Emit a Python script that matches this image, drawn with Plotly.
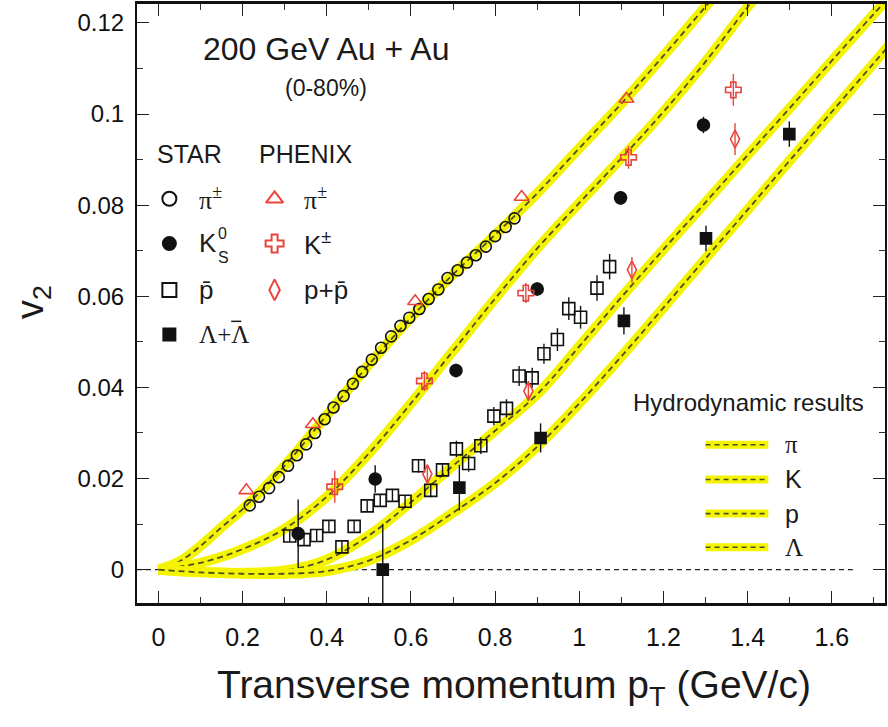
import plotly.graph_objects as go

# ---------------- data ----------------
# STAR charged pions (open circles)
star_pi_pt = [0.217, 0.239, 0.263, 0.286, 0.308, 0.329, 0.351, 0.372, 0.395, 0.416,
              0.440, 0.462, 0.484, 0.507, 0.529, 0.553, 0.575, 0.596, 0.620, 0.642,
              0.665, 0.687, 0.711, 0.733, 0.754, 0.778, 0.800, 0.825, 0.846]
star_pi_v2 = [0.0141, 0.0160, 0.0179, 0.0203, 0.0228, 0.0251, 0.0275, 0.0300, 0.0330, 0.0356,
              0.0381, 0.0408, 0.0434, 0.0461, 0.0487, 0.0512, 0.0535, 0.0553, 0.0572, 0.0594,
              0.0615, 0.0640, 0.0657, 0.0674, 0.0690, 0.0709, 0.0732, 0.0752, 0.0771]

# STAR K0s (filled circles)
star_k_pt = [0.332, 0.515, 0.707, 0.900, 1.098, 1.295]
star_k_v2 = [0.0079, 0.0199, 0.0437, 0.0616, 0.0816, 0.0976]
star_k_err = [0.0075, 0.0030, 0.0015, 0.0015, 0.0015, 0.0018]

# STAR anti-protons (open squares)
star_p_pt = [0.312, 0.346, 0.376, 0.405, 0.436, 0.465, 0.496, 0.527, 0.556, 0.586,
             0.618, 0.647, 0.675, 0.708, 0.737, 0.766, 0.797, 0.827, 0.857, 0.888,
             0.916, 0.948, 0.975, 1.003, 1.042, 1.072]
star_p_v2 = [0.0074, 0.0066, 0.0075, 0.0095, 0.0050, 0.0095, 0.0140, 0.0152, 0.0163, 0.0150,
             0.0228, 0.0174, 0.0219, 0.0265, 0.0233, 0.0272, 0.0337, 0.0354, 0.0425, 0.0421,
             0.0474, 0.0505, 0.0573, 0.0554, 0.0618, 0.0665]
star_p_err = [0.0012, 0.0012, 0.0012, 0.0012, 0.0012, 0.0012, 0.0012, 0.0012, 0.0012, 0.0012,
              0.0015, 0.0015, 0.0015, 0.0018, 0.0018, 0.0018, 0.0020, 0.0020, 0.0022, 0.0022,
              0.0022, 0.0025, 0.0025, 0.0025, 0.0028, 0.0028]

# STAR Lambda + anti-Lambda (filled squares)
star_l_pt = [0.533, 0.715, 0.908, 1.106, 1.301, 1.499]
star_l_v2 = [0.0000, 0.0180, 0.0289, 0.0546, 0.0727, 0.0956]
star_l_err = [0.0101, 0.0050, 0.0032, 0.0030, 0.0028, 0.0028]

# PHENIX charged pions (open triangles)
phx_pi_pt = [0.209, 0.367, 0.610, 0.863, 1.112]
phx_pi_v2 = [0.0174, 0.0319, 0.0589, 0.0818, 0.1033]

# PHENIX charged kaons (open crosses)
phx_k_pt = [0.419, 0.632, 0.873, 1.117, 1.366]
phx_k_v2 = [0.0182, 0.0414, 0.0607, 0.0905, 0.1053]
phx_k_err = [0.0035, 0.0022, 0.0022, 0.0025, 0.0035]

# PHENIX p + anti-p (open diamonds)
phx_p_pt = [0.639, 0.879, 1.125, 1.370]
phx_p_v2 = [0.0210, 0.0392, 0.0658, 0.0945]
phx_p_err = [0.0020, 0.0022, 0.0028, 0.0035]

# Hydrodynamic calculations
hydro_pi_pt = [0.0, 0.05, 0.10, 0.15, 0.20, 0.30, 0.40, 0.50, 0.60, 0.70, 0.80, 0.90,
               1.00, 1.10, 1.20, 1.30, 1.35]
hydro_pi_v2 = [0.0, 0.0018, 0.0052, 0.0093, 0.0133, 0.0228, 0.0339, 0.0450, 0.0553, 0.0648,
               0.0735, 0.0826, 0.0925, 0.1023, 0.1128, 0.1236, 0.1290]

hydro_k_pt = [0.0, 0.10, 0.20, 0.30, 0.40, 0.50, 0.60, 0.70, 0.80, 0.90, 1.00, 1.10,
              1.20, 1.30, 1.40, 1.45]
hydro_k_v2 = [0.0, 0.0015, 0.0045, 0.0090, 0.0160, 0.0255, 0.0365, 0.0480, 0.0595, 0.0705,
              0.0805, 0.0903, 0.1005, 0.1115, 0.1235, 0.1290]

hydro_p_pt = [0.0, 0.10, 0.20, 0.30, 0.40, 0.50, 0.60, 0.70, 0.80, 0.90, 1.00, 1.10,
              1.20, 1.30, 1.40, 1.50, 1.60, 1.70, 1.75]
hydro_p_v2 = [0.0, -0.0005, -0.0007, -0.0002, 0.0022, 0.0075, 0.0148, 0.0228, 0.0305, 0.0385,
              0.0490, 0.0598, 0.0703, 0.0806, 0.0910, 0.1013, 0.1117, 0.1220, 0.1270]

hydro_l_pt = [0.0, 0.10, 0.20, 0.30, 0.40, 0.50, 0.60, 0.70, 0.80, 0.90, 1.00, 1.10,
              1.20, 1.30, 1.40, 1.50, 1.60, 1.70, 1.75]
hydro_l_v2 = [0.0, -0.0006, -0.0009, -0.0009, -0.0003, 0.0020, 0.0065, 0.0125, 0.0190, 0.0270,
              0.0365, 0.0468, 0.0575, 0.0683, 0.0790, 0.0898, 0.1005, 0.1112, 0.1166]

x_ticks = [0, 0.2, 0.4, 0.6, 0.8, 1.0, 1.2, 1.4, 1.6]
y_ticks = [0, 0.02, 0.04, 0.06, 0.08, 0.10, 0.12]

# ---------------- style ----------------
RED = "#e8453c"
BLACK = "#111111"
YELLOW = "#f4f400"
DASH_DARK = "rgba(60,60,40,0.9)"
SANS = "Liberation Sans, Arial, sans-serif"
SERIF = "Liberation Serif, Times New Roman, serif"

fig = go.Figure()


def hydro(x, y):
    fig.add_trace(go.Scatter(x=x, y=y, mode="lines", line=dict(color=YELLOW, width=10, shape="spline"),
                             hoverinfo="skip", showlegend=False))
    fig.add_trace(go.Scatter(x=x, y=y, mode="lines",
                             line=dict(color=DASH_DARK, width=1.8, dash="6px,4px", shape="spline"),
                             hoverinfo="skip", showlegend=False))


for hx, hy in [(hydro_pi_pt, hydro_pi_v2), (hydro_k_pt, hydro_k_v2),
               (hydro_p_pt, hydro_p_v2), (hydro_l_pt, hydro_l_v2)]:
    hydro(hx, hy)


def points(x, y, symbol, color, size, err=None, lw=1.6):
    ey = None
    if err is not None:
        ey = dict(type="data", array=err, visible=True, color=color, thickness=1.4, width=0)
    fig.add_trace(go.Scatter(x=x, y=y, mode="markers", error_y=ey,
                             marker=dict(symbol=symbol, size=size, color=color,
                                         line=dict(color=color, width=lw)),
                             showlegend=False))


points(star_p_pt, star_p_v2, "square-open", BLACK, 12, star_p_err)
points(star_pi_pt, star_pi_v2, "circle-open", BLACK, 11)
points(star_k_pt, star_k_v2, "circle", BLACK, 12, star_k_err)
points(star_l_pt, star_l_v2, "square", BLACK, 11, star_l_err)
points(phx_pi_pt, phx_pi_v2, "triangle-up-open", RED, 13)
points(phx_k_pt, phx_k_v2, "cross-open", RED, 13, phx_k_err)
points(phx_p_pt, phx_p_v2, "diamond-tall-open", RED, 13, phx_p_err)

# ---------------- legend (drawn inside the frame) ----------------
LEG_STAR_X = 0.026
LEG_PHX_X = 0.276
LEG_ROWS = [0.0814, 0.0716, 0.0614, 0.0516]

legend_samples = [
    (LEG_STAR_X, LEG_ROWS[0], "circle-open", BLACK, 14),
    (LEG_STAR_X, LEG_ROWS[1], "circle", BLACK, 13),
    (LEG_STAR_X, LEG_ROWS[2], "square-open", BLACK, 14),
    (LEG_STAR_X, LEG_ROWS[3], "square", BLACK, 12),
    (LEG_PHX_X, LEG_ROWS[0], "triangle-up-open", RED, 15),
    (LEG_PHX_X, LEG_ROWS[1], "cross-open", RED, 15),
    (LEG_PHX_X, LEG_ROWS[2], "diamond-tall-open", RED, 15),
]
for lx, ly, sym, col, sz in legend_samples:
    fig.add_trace(go.Scatter(x=[lx], y=[ly], mode="markers", showlegend=False, hoverinfo="skip",
                             marker=dict(symbol=sym, size=sz, color=col, line=dict(color=col, width=2))))

HYDRO_LEG_X = [1.300, 1.449]
HYDRO_LEG_ROWS = [0.0274, 0.0198, 0.0123, 0.0049]
for ly in HYDRO_LEG_ROWS:
    fig.add_trace(go.Scatter(x=HYDRO_LEG_X, y=[ly, ly], mode="lines", showlegend=False, hoverinfo="skip",
                             line=dict(color=YELLOW, width=8)))
    fig.add_trace(go.Scatter(x=HYDRO_LEG_X, y=[ly, ly], mode="lines", showlegend=False, hoverinfo="skip",
                             line=dict(color=DASH_DARK, width=1.6, dash="5px,4px")))

ann = []


def txt(x, y, s, size, family=SANS, xanchor="center", xref="x", yref="y", angle=0, color="#1a1a1a"):
    ann.append(dict(x=x, y=y, xref=xref, yref=yref, text=s, showarrow=False, xanchor=xanchor,
                    yanchor="middle", textangle=angle, font=dict(size=size, family=family, color=color)))


txt(0.399, 0.1142, "200 GeV Au + Au", 32)
txt(0.397, 0.1058, "(0-80%)", 23)
txt(0.0747, 0.0912, "STAR", 25)
txt(0.3495, 0.0912, "PHENIX", 25)

TXT_STAR_X = 0.091
TXT_PHX_X = 0.342
txt(TXT_STAR_X, LEG_ROWS[0], "π<sup>±</sup>", 26, SERIF, "left")
txt(TXT_STAR_X, LEG_ROWS[1], "K", 26, SANS, "left")
txt(TXT_STAR_X + 0.045, LEG_ROWS[1] + 0.0022, "0", 16, SANS, "left")
txt(TXT_STAR_X + 0.045, LEG_ROWS[1] - 0.0030, "S", 16, SANS, "left")
txt(TXT_STAR_X, LEG_ROWS[2], "p\u0304", 26, SANS, "left")
txt(TXT_STAR_X, LEG_ROWS[3], "Λ+Λ", 25, SERIF, "left")
txt(TXT_PHX_X, LEG_ROWS[0], "π<sup>±</sup>", 26, SERIF, "left")
txt(TXT_PHX_X, LEG_ROWS[1], "K<sup>±</sup>", 26, SANS, "left")
txt(TXT_PHX_X, LEG_ROWS[2], "p+p\u0304", 26, SANS, "left")

txt(1.4017, 0.0366, "Hydrodynamic results", 24)
for ly, s, fam in zip(HYDRO_LEG_ROWS, ["π", "K", "p", "Λ"], [SERIF, SANS, SANS, SERIF]):
    txt(1.485, ly, s, 25, fam, "left")

# axis titles
txt(-0.14, 0.503, "v<sub>2</sub>", 38, SANS, "center", "paper", "paper", -90)
txt(0.504, -0.141, "Transverse momentum p<sub>T</sub> (GeV/c)", 39, SANS, "center", "paper", "paper")

# bar over the second Lambda in the legend label
LAMBDA_BAR = dict(x0=0.173, x1=0.197, y=LEG_ROWS[3] + 0.0029)

fig.update_layout(
    width=888, height=727,
    margin=dict(l=137, r=1, t=1, b=124),
    paper_bgcolor="white", plot_bgcolor="white",
    annotations=ann,
    shapes=[dict(type="line", xref="x", yref="y", x0=-0.051, x1=1.65, y0=0, y1=0,
                 line=dict(color="#222222", width=1.2, dash="5px,4px"), layer="below"),
            dict(type="line", xref="x", yref="y", x0=LAMBDA_BAR["x0"], x1=LAMBDA_BAR["x1"],
                 y0=LAMBDA_BAR["y"], y1=LAMBDA_BAR["y"], line=dict(color="#1a1a1a", width=1.5))],
)
fig.update_xaxes(range=[-0.0509, 1.7263], tickvals=x_ticks, ticks="inside", ticklen=12, tickwidth=1.2,
                 tickcolor="#222", showline=True, linewidth=2.5, linecolor="#111", mirror="ticks",
                 showgrid=False, zeroline=False, tickfont=dict(size=25, family=SANS, color="#111"),
                 ticklabelstandoff=10,
                 minor=dict(dtick=0.1, tick0=0, ticks="inside", ticklen=6, tickwidth=1, tickcolor="#333"))
fig.update_yaxes(range=[-0.00732, 0.12415], tickvals=y_ticks, ticks="inside", ticklen=12, tickwidth=1.2,
                 tickcolor="#222", showline=True, linewidth=2, linecolor="#111", mirror="ticks",
                 showgrid=False, zeroline=False, tickfont=dict(size=24, family=SANS, color="#111"),
                 ticklabelstandoff=6,
                 minor=dict(dtick=0.01, tick0=0, ticks="inside", ticklen=6, tickwidth=1, tickcolor="#333"))

fig.write_html("out.html")
